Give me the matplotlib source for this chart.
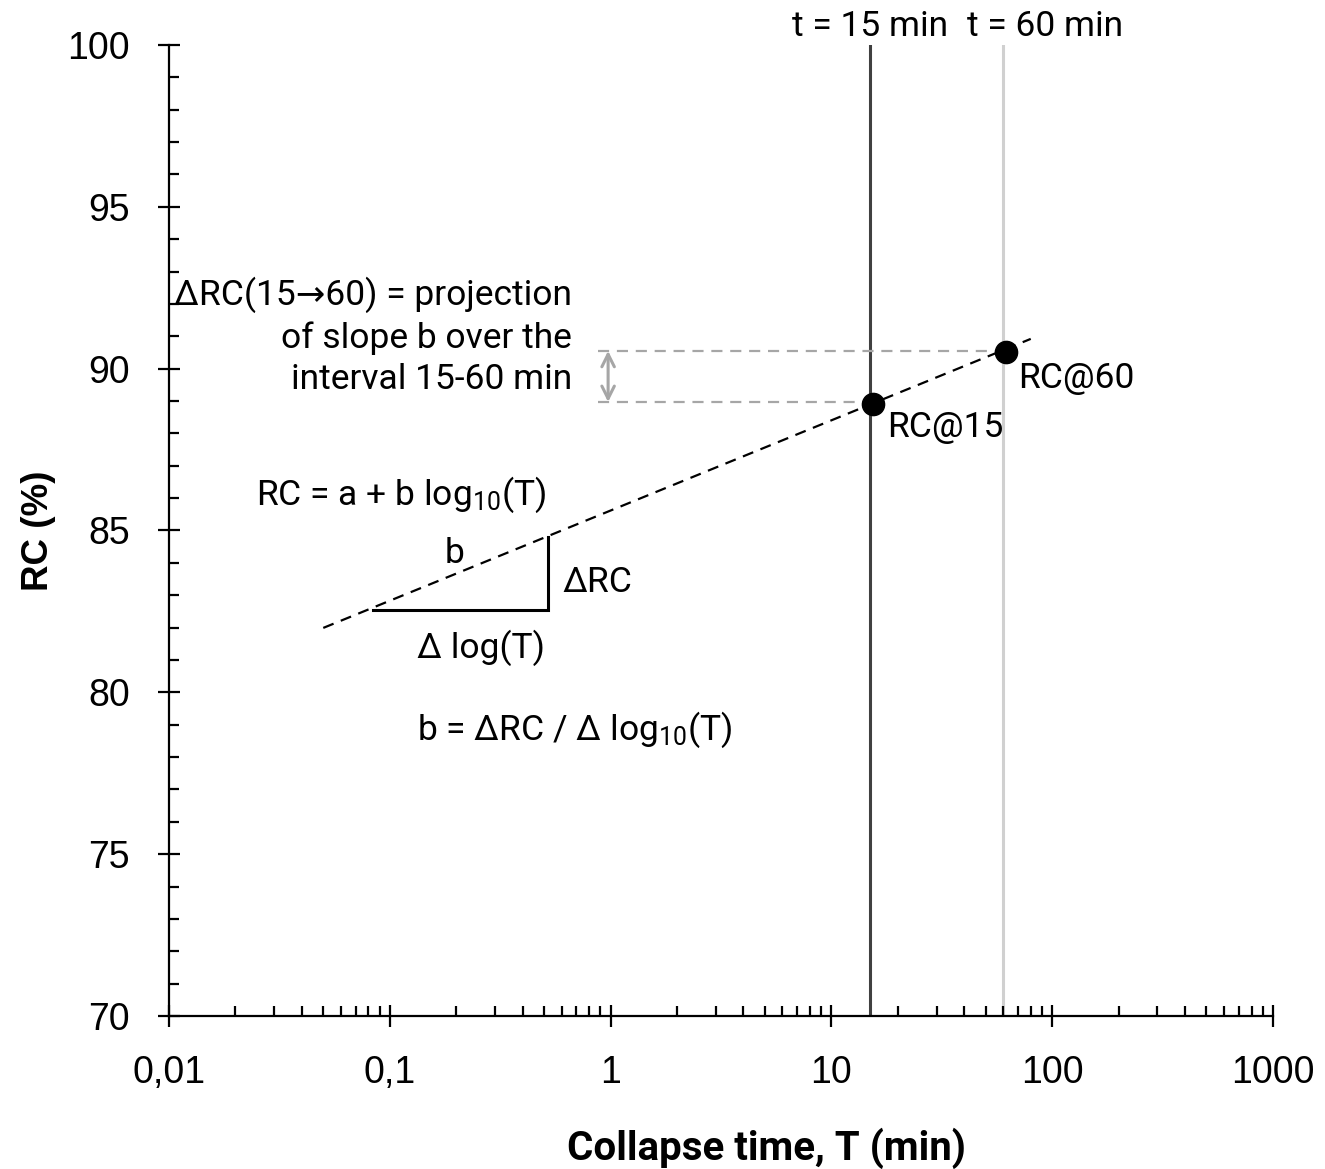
import matplotlib
matplotlib.use('Agg')
import matplotlib.pyplot as plt
from matplotlib.ticker import FixedLocator, FuncFormatter, LogLocator, MultipleLocator
import matplotlib.transforms as mtransforms

# --- data ---
fit_T = [0.05, 80]
fit_RC = [81.99, 90.92]

point_T = [15.5, 62]
point_RC = [88.9, 90.5]
point_labels = ['RC@15', 'RC@60']

ref_T = [15, 60]
ref_labels = ['t = 15 min', 't = 60 min']
ref_colors = ['#404040', '#d0d0d0']

proj_T_start = 0.88
proj_RC = [90.55, 88.97]
proj_T_end = [60, 15]
arrow_T = 0.975

tri_T = [0.084, 0.52, 0.52]
tri_RC = [82.54, 82.54, 84.8]

x_ticks = [0.01, 0.1, 1, 10, 100, 1000]
x_ticklabels = ['0,01', '0,1', '1', '10', '100', '1000']
y_ticks = [70, 75, 80, 85, 90, 95, 100]

plt.rcParams['mathtext.default'] = 'regular'
txt_font = ['Roboto', 'DejaVu Sans']
tick_font = 'Liberation Sans'

fig = plt.figure(figsize=(13.25, 11.69), dpi=100)
ax = fig.add_axes([0.1275, 0.1309, 0.8332, 0.8306])

ax.set_xscale('log')
ax.set_xlim(0.01, 1000)
ax.set_ylim(70, 100)

# reference time lines
for t, c in zip(ref_T, ref_colors):
    ax.axvline(t, color=c, lw=2.2, zorder=1)

# projection lines + double arrow
for rc, t_end in zip(proj_RC, proj_T_end):
    ax.plot([proj_T_start, t_end], [rc, rc], color='#a6a6a6', lw=1.6,
            dashes=(5, 3.5), zorder=2)
ax.annotate('', xy=(arrow_T, proj_RC[0]), xytext=(arrow_T, proj_RC[1]),
            arrowprops=dict(arrowstyle='<->,head_length=0.9,head_width=0.45',
                            color='#a6a6a6', lw=2.2, shrinkA=0, shrinkB=0))

# fitted line
ax.plot(fit_T, fit_RC, color='black', lw=1.6, dashes=(5, 3.5), zorder=3)

# slope triangle
ax.plot(tri_T, tri_RC, color='black', lw=2.2, solid_joinstyle='miter', zorder=3)

# points
ax.plot(point_T, point_RC, 'o', color='black', ms=16, zorder=4)

# texts
fs = 25.5
ax.text(17.9, 87.89, point_labels[0], fontsize=fs, family=txt_font, va='baseline')
ax.text(70.0, 89.40, point_labels[1], fontsize=fs, family=txt_font, va='baseline')

trans = mtransforms.blended_transform_factory(ax.transData, ax.transAxes)
ax.text(15, 1.009, ref_labels[0], fontsize=fs, family=txt_font, ha='center',
        va='baseline', transform=trans)
ax.text(93, 1.009, ref_labels[1], fontsize=fs, family=txt_font, ha='center',
        va='baseline', transform=trans)

ax.text(0.668, 91.0, 'ΔRC(15→60) = projection\nof slope b over the\ninterval 15-60 min',
        fontsize=fs, family=txt_font, ha='right', va='center', multialignment='right',
        linespacing=1.3)
ax.text(0.0248, 85.79, 'RC = a + b log$_{10}$(T)', fontsize=fs, family=txt_font,
        va='baseline')
ax.text(0.197, 84.0, 'b', fontsize=fs, family=txt_font, ha='center', va='baseline')
ax.text(0.603, 83.10, 'ΔRC', fontsize=fs, family=txt_font, va='baseline')
ax.text(0.1328, 81.06, 'Δ log(T)', fontsize=fs, family=txt_font, va='baseline')
ax.text(0.1328, 78.53, 'b = ΔRC / Δ log$_{10}$(T)', fontsize=fs, family=txt_font,
        va='baseline')

# axes styling
for side in ['top', 'right']:
    ax.spines[side].set_visible(False)
for side in ['left', 'bottom']:
    ax.spines[side].set_linewidth(1.6)

ax.xaxis.set_major_locator(FixedLocator(x_ticks))
ax.xaxis.set_major_formatter(FuncFormatter(lambda v, p: x_ticklabels[x_ticks.index(v)] if v in x_ticks else ''))
ax.xaxis.set_minor_locator(LogLocator(base=10, subs=range(2, 10), numticks=20))
ax.yaxis.set_major_locator(FixedLocator(y_ticks))
ax.yaxis.set_minor_locator(MultipleLocator(1))

ax.tick_params(which='major', direction='inout', length=16, width=1.6, pad=20,
               labelsize=27, labelfontfamily=tick_font)
ax.tick_params(which='minor', direction='in', length=7.5, width=1.6)

ax.set_xlabel('Collapse time, T (min)', fontsize=29, fontweight='bold',
              family=['Roboto', 'DejaVu Sans'])
ax.xaxis.set_label_coords(0.5417, -0.115)
ax.set_ylabel('RC (%)', fontsize=26.5, fontweight='bold', family=tick_font)
ax.yaxis.set_label_coords(-0.1025, 0.5)

fig.savefig('out.png', dpi=100)
